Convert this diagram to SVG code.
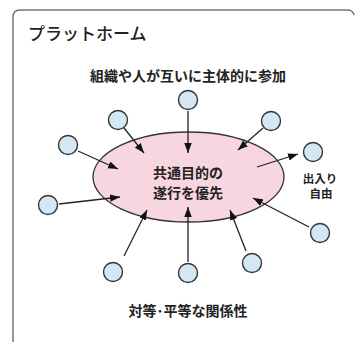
<svg xmlns="http://www.w3.org/2000/svg" width="355" height="342" viewBox="0 0 355 342">
  <style>
    .frame { fill: none; stroke: #777; stroke-width: 1.5; }
    .node { fill: #d3e8f4; stroke: #333; stroke-width: 1.4; }
    .hub { fill: #f8d6df; stroke: #333; stroke-width: 1.3; }
    .conn { stroke: #222; stroke-width: 1.3; fill: none; marker-end: url(#ah); }
    text { font-family: "Noto Sans CJK JP", "Noto Sans", sans-serif; fill: #222; text-anchor: middle; }
    .title { font-size: 17px; font-weight: 500; text-anchor: start; }
    .lbl { font-size: 14px; font-weight: bold; }
    .small { font-size: 11.5px; font-weight: bold; }
  </style>
  <defs>
    <marker id="ah" markerUnits="userSpaceOnUse" markerWidth="11" markerHeight="8" refX="10" refY="3.75" orient="auto">
      <path d="M0,0 L10,3.75 L0,7.5 Z" fill="#111"/>
    </marker>
  </defs>
  <rect width="355" height="342" fill="#ffffff"/>
  <path class="frame" d="M13,342 V17 Q13,10 20,10 H347 Q353,10 354,15"/>
  <text class="title" x="28" y="40">プラットホーム</text>
  <text class="lbl" x="188" y="81">組織や人が互いに主体的に参加</text>
  <text class="lbl" x="188" y="316">対等･平等な関係性</text>

  <g id="hub">
    <ellipse class="hub" cx="188.5" cy="177" rx="95.5" ry="45"/>
    <text class="lbl" x="188" y="178">共通目的の</text>
    <text class="lbl" x="188" y="198">遂行を優先</text>
  </g>

  <g id="n-top"><circle class="node" cx="188" cy="100" r="9.5"/></g>
  <g id="n-ul"><circle class="node" cx="118" cy="120" r="9.5"/></g>
  <g id="n-ur"><circle class="node" cx="271" cy="121" r="9.5"/></g>
  <g id="n-l"><circle class="node" cx="68" cy="145" r="9.5"/></g>
  <g id="n-r">
    <circle class="node" cx="313" cy="152" r="9.5"/>
    <text class="small" x="320" y="183">出入り</text>
    <text class="small" x="321" y="198">自由</text>
  </g>
  <g id="n-ll"><circle class="node" cx="48" cy="205" r="9.5"/></g>
  <g id="n-rl"><circle class="node" cx="320" cy="233" r="9.5"/></g>
  <g id="n-bl"><circle class="node" cx="113" cy="272" r="9.5"/></g>
  <g id="n-bc"><circle class="node" cx="188" cy="273" r="9.5"/></g>
  <g id="n-br"><circle class="node" cx="252" cy="263" r="9.5"/></g>

  <g id="connectors">
    <line class="conn" x1="188" y1="111" x2="188" y2="153"/>
    <line class="conn" x1="124" y1="128" x2="144" y2="153"/>
    <line class="conn" x1="263" y1="128" x2="238" y2="150"/>
    <line class="conn" x1="78" y1="151" x2="118" y2="169"/>
    <line class="conn" x1="257" y1="167" x2="298" y2="154"/>
    <line class="conn" x1="59" y1="204" x2="120" y2="197"/>
    <line class="conn" x1="309" y1="227" x2="253" y2="198"/>
    <line class="conn" x1="124" y1="256" x2="147" y2="210"/>
    <line class="conn" x1="188" y1="262" x2="188" y2="207"/>
    <line class="conn" x1="246" y1="251" x2="230" y2="210"/>
  </g>
</svg>
